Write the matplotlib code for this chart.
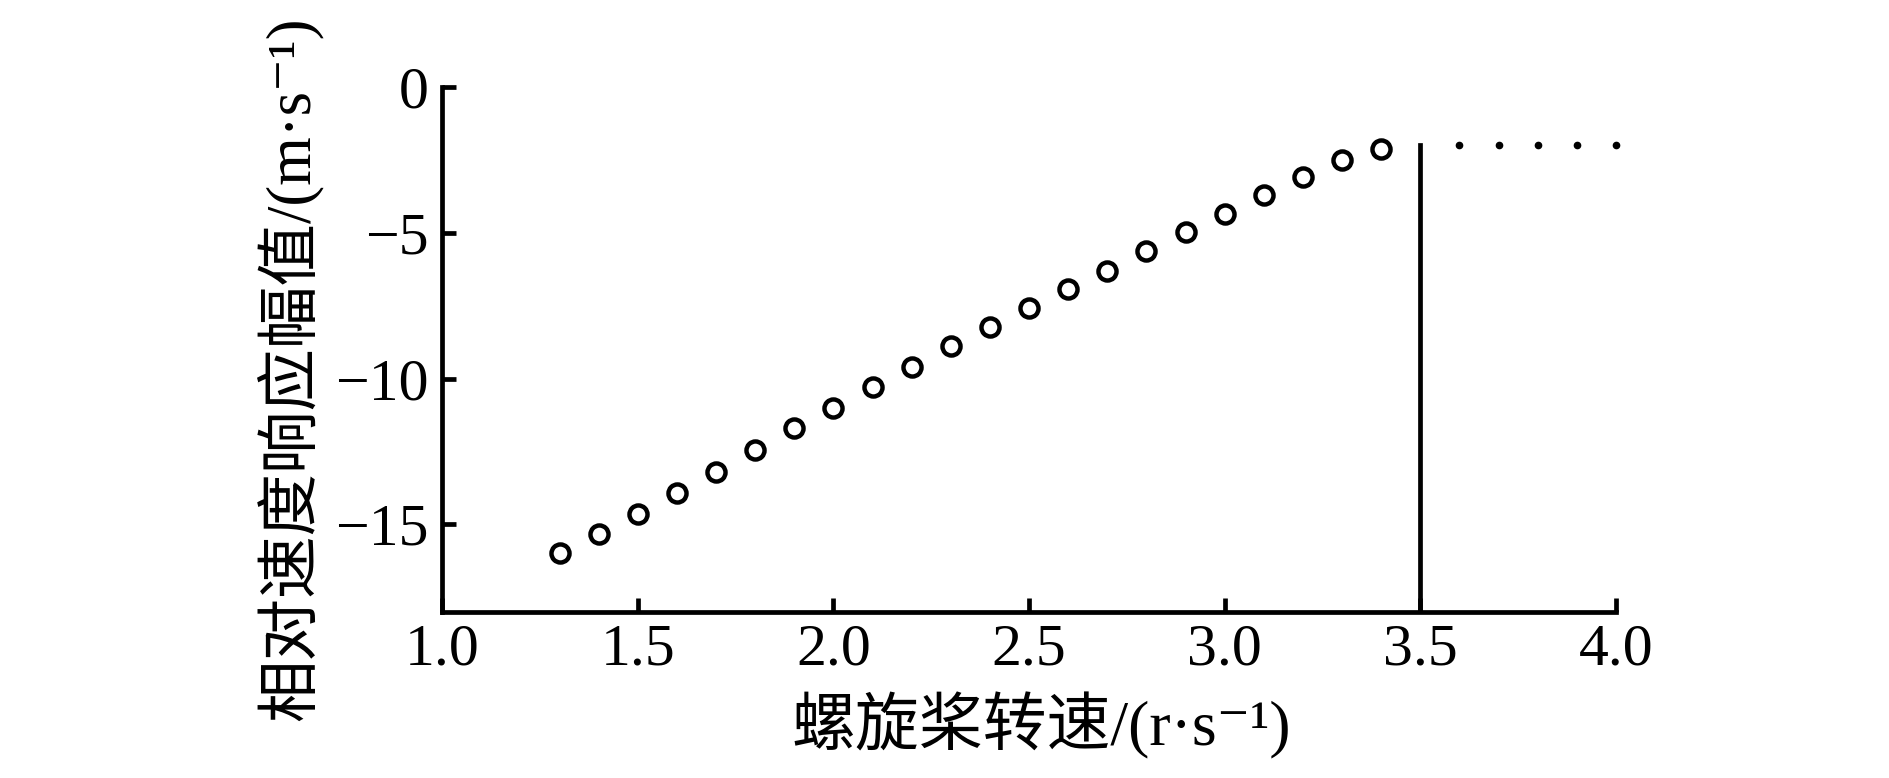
import matplotlib
matplotlib.use("Agg")
import matplotlib.pyplot as plt

plt.rcParams['font.family'] = ['Liberation Serif', 'Noto Sans CJK SC', 'DejaVu Serif']
plt.rcParams['axes.unicode_minus'] = True

# 螺旋桨转速 vs 相对速度响应幅值
speed = [1.3, 1.4, 1.5, 1.6, 1.7, 1.8, 1.9, 2.0, 2.1, 2.2, 2.3,
         2.4, 2.5, 2.6, 2.7, 2.8, 2.9, 3.0, 3.1, 3.2, 3.3, 3.4]
amp = [-15.99, -15.33, -14.63, -13.93, -13.19, -12.44, -11.70, -11.00,
       -10.30, -9.60, -8.90, -8.24, -7.58, -6.92, -6.30, -5.64, -4.99,
       -4.37, -3.71, -3.09, -2.51, -2.14]

# 3.5 之后的水平段（小圆点）
speed_after = [3.6, 3.7, 3.8, 3.9, 4.0]
amp_after = [-2.0, -2.0, -2.0, -2.0, -2.0]

# 3.5 处的竖线
jump_x = 3.5
jump_top = -2.0

xticks = [1.0, 1.5, 2.0, 2.5, 3.0, 3.5, 4.0]
yticks = [0, -5, -10, -15]

fig = plt.figure(figsize=(18.9, 7.78), dpi=100)
ax = fig.add_axes([0.234, 0.2134, 0.621, 0.675])

ax.plot(speed, amp, 'o', ms=13, mfc='white', mec='black', mew=3.2,
        linestyle='none', clip_on=False)
ax.plot(speed_after, amp_after, 'o', ms=4.5, color='black',
        linestyle='none', clip_on=False)
ax.plot([jump_x, jump_x], [-18, jump_top], color='black', lw=3.4)

ax.set_xlim(1.0, 4.0)
ax.set_ylim(-18, 0)
ax.set_xticks(xticks)
ax.set_xticklabels([f'{v:.1f}' for v in xticks])
ax.set_yticks(yticks)
ax.set_yticklabels([str(v).replace('-', '\u2212') for v in yticks])

for side in ['top', 'right']:
    ax.spines[side].set_visible(False)
for side in ['left', 'bottom']:
    ax.spines[side].set_linewidth(3.4)

ax.tick_params(direction='in', length=10, width=3.4, labelsize=43, pad=8)
ax.tick_params(axis='y', pad=10)

ax.set_xlabel('螺旋桨转速/(r·s\u207b\u00b9)', fontsize=46)
ax.set_ylabel('相对速度响应幅值/(m·s\u207b\u00b9)', fontsize=45)
ax.xaxis.set_label_coords(0.5105, -0.152)
ax.yaxis.set_label_coords(-0.102, 0.463)

fig.savefig('out.png', dpi=100, facecolor='white')
